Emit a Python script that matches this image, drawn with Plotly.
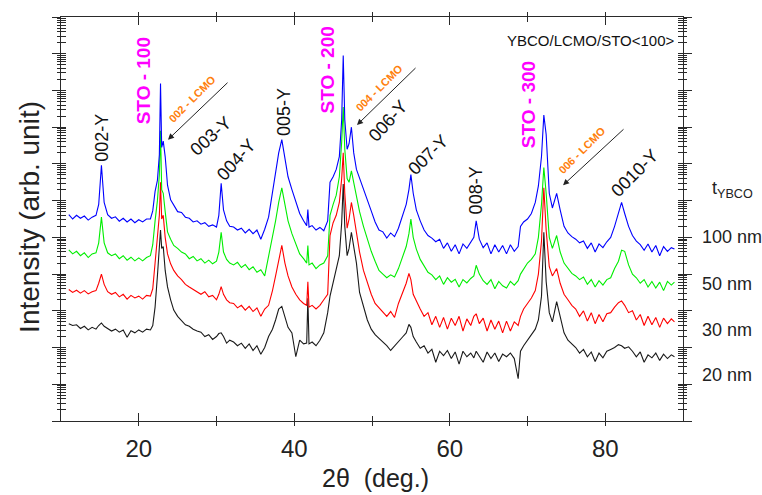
import plotly.graph_objects as go

# 2theta grid (deg.)
two_theta = [
    11.0, 11.5, 12.0, 12.5, 13.0, 13.5, 14.0, 14.5, 14.85, 15.2,
    15.55, 16.0, 16.5, 17.0, 17.5, 18.0, 18.5, 19.0, 19.5, 20.0,
    20.5, 21.0, 21.5, 21.8, 22.1, 22.4, 22.65, 22.8, 22.95, 23.15,
    23.4, 23.7, 24.1, 24.5, 25.0, 25.5, 26.0, 26.5, 27.0, 27.5,
    28.0, 28.5, 29.0, 29.5, 30.0, 30.3, 30.6, 30.9, 31.3, 31.7,
    32.2, 32.7, 33.2, 33.7, 34.2, 34.7, 35.2, 35.7, 36.2, 36.7,
    37.2, 37.6, 38.0, 38.4, 38.8, 39.2, 39.7, 40.2, 40.7, 41.2,
    41.6, 41.75, 41.9, 42.3, 42.8, 43.3, 43.8, 44.3, 44.6, 45.0,
    45.4, 45.8, 46.1, 46.3, 46.5, 46.8, 47.05, 47.35, 47.65, 48.0,
    48.4, 48.9, 49.4, 49.9, 50.4, 50.9, 51.4, 51.9, 52.4, 52.9,
    53.4, 53.9, 54.4, 54.75, 55.0, 55.3, 55.7, 56.2, 56.7, 57.2,
    57.7, 58.2, 58.7, 59.2, 59.7, 60.2, 60.7, 61.2, 61.7, 62.2,
    62.7, 63.1, 63.4, 63.8, 64.3, 64.8, 65.3, 65.8, 66.3, 66.8,
    67.3, 67.8, 68.3, 68.8, 69.1, 69.5, 70.0, 70.5, 71.0, 71.4,
    71.8, 72.1, 72.4, 72.8, 73.2, 73.75, 74.2, 74.7, 75.2, 75.7,
    76.2, 76.7, 77.2, 77.7, 78.2, 78.7, 79.2, 79.7, 80.2, 80.7,
    81.2, 81.7, 82.1, 82.5, 83.0, 83.5, 84.0, 84.5, 85.0, 85.5,
    86.0, 86.5, 87.0, 87.5, 88.0, 88.5, 88.9,
]

# log10 of intensity (arb. unit)
log_int_100nm = [
    5.62, 5.50, 5.60, 5.52, 5.58, 5.47, 5.55, 5.60, 5.90, 6.96,
    5.95, 5.62, 5.52, 5.56, 5.44, 5.52, 5.42, 5.50, 5.40, 5.48,
    5.42, 5.50, 5.50, 5.72, 6.25, 6.55, 7.25, 9.19, 7.45, 7.62,
    7.20, 6.42, 6.02, 5.88, 5.70, 5.68, 5.55, 5.52, 5.42, 5.45,
    5.36, 5.40, 5.30, 5.34, 5.28, 5.60, 6.47, 5.75, 5.45, 5.30,
    5.28, 5.20, 5.25, 5.12, 5.22, 5.10, 5.20, 4.95, 5.22, 5.55,
    6.25, 6.70, 7.30, 7.66, 7.20, 6.65, 6.30, 5.95, 5.65, 5.45,
    5.32, 5.76, 5.28, 5.32, 5.20, 5.27, 5.18, 5.45, 6.50, 6.65,
    6.85, 7.20, 8.20, 9.95, 8.20, 7.40, 7.55, 8.00, 7.30, 6.85,
    6.60, 6.30, 6.00, 5.72, 5.42, 5.20, 5.15, 4.98, 5.12, 5.02,
    5.25, 5.55, 5.90, 6.30, 6.71, 6.20, 5.75, 5.45, 5.20, 5.05,
    4.98, 4.88, 4.95, 4.70, 4.85, 4.62, 4.80, 4.55, 4.82, 4.70,
    4.85, 5.00, 5.45, 4.95, 4.72, 4.85, 4.55, 4.80, 4.60, 4.78,
    4.55, 4.80, 4.62, 4.75, 5.30, 5.42, 5.50, 5.65, 5.95, 6.40,
    7.20, 8.33, 7.80, 6.20, 5.80, 6.20, 5.75, 5.30, 5.12, 5.02,
    4.95, 4.85, 4.90, 4.70, 4.85, 4.60, 4.82, 4.72, 4.88, 5.00,
    5.30, 5.70, 5.95, 5.65, 5.30, 5.05, 4.90, 4.80, 4.65, 4.82,
    4.60, 4.78, 4.50, 4.75, 4.62, 4.72, 4.68,
]

log_int_50nm = [
    4.66, 4.55, 4.62, 4.50, 4.58, 4.45, 4.55, 4.58, 4.85, 5.55,
    4.85, 4.58, 4.50, 4.55, 4.42, 4.50, 4.38, 4.46, 4.36, 4.44,
    4.36, 4.45, 4.50, 4.80, 5.45, 6.00, 6.70, 7.90, 6.30, 6.20,
    5.70, 5.15, 4.95, 4.78, 4.70, 4.60, 4.55, 4.42, 4.48, 4.36,
    4.42, 4.30, 4.38, 4.28, 4.35, 4.60, 5.14, 4.60, 4.40, 4.30,
    4.25, 4.32, 4.18, 4.26, 4.12, 4.20, 4.05, 4.12, 3.95, 4.45,
    5.00, 5.45, 5.95, 6.35, 5.90, 5.45, 5.10, 4.80, 4.55, 4.42,
    4.30, 4.78, 4.25, 4.30, 4.15, 4.25, 4.30, 4.50, 5.60, 5.90,
    6.15, 6.65, 7.60, 8.55, 7.40, 6.60, 6.50, 6.81, 6.50, 6.10,
    5.70, 5.30, 4.95, 4.62, 4.35, 4.10, 4.00, 3.90, 3.98, 3.92,
    4.15, 4.45, 4.75, 5.10, 5.50, 5.00, 4.68, 4.40, 4.22, 4.05,
    3.98, 3.85, 3.95, 3.72, 3.90, 3.78, 3.86, 3.65, 3.85, 3.76,
    3.88, 3.95, 4.24, 4.00, 3.82, 3.72, 3.85, 3.60, 3.80, 3.68,
    3.62, 3.80, 3.70, 3.82, 4.00, 4.15, 4.30, 4.40, 4.55, 5.00,
    5.90, 6.90, 6.20, 5.00, 4.70, 5.05, 4.60, 4.30, 4.15, 4.02,
    3.95, 3.85, 3.92, 3.72, 3.85, 3.65, 3.82, 3.70, 3.85, 3.90,
    4.15, 4.35, 4.65, 4.62, 4.25, 4.00, 3.90, 3.75, 3.85, 3.65,
    3.80, 3.62, 3.78, 3.55, 3.80, 3.70, 3.78,
]

log_int_30nm = [
    3.58, 3.50, 3.56, 3.48, 3.55, 3.46, 3.52, 3.55, 3.75, 4.00,
    3.72, 3.52, 3.45, 3.50, 3.38, 3.45, 3.32, 3.42, 3.35, 3.40,
    3.32, 3.42, 3.40, 3.60, 4.30, 4.95, 5.60, 6.50, 5.50, 5.60,
    5.00, 4.55, 4.28, 4.10, 3.95, 3.85, 3.72, 3.65, 3.58, 3.50,
    3.45, 3.52, 3.38, 3.42, 3.30, 3.45, 3.66, 3.45, 3.30, 3.22,
    3.20, 3.08, 3.15, 3.02, 3.12, 2.98, 3.08, 2.85, 3.05, 3.15,
    3.55, 3.95, 4.40, 4.78, 4.30, 3.95, 3.65, 3.45, 3.30, 3.20,
    3.15, 3.79, 3.10, 3.15, 3.05, 3.15, 3.30, 3.45, 5.05, 5.40,
    5.60, 5.95, 6.60, 7.30, 6.20, 5.25, 5.50, 5.95, 5.60, 5.10,
    4.60, 4.10, 3.75, 3.45, 3.20, 3.08, 2.95, 2.85, 2.98, 2.82,
    3.20, 3.45, 3.75, 4.02, 3.85, 3.45, 3.25, 3.05, 2.85, 2.95,
    2.62, 2.85, 2.55, 2.82, 2.50, 2.80, 2.60, 2.85, 2.45, 2.78,
    2.60, 2.85, 2.92, 2.65, 2.80, 2.45, 2.75, 2.50, 2.72, 2.40,
    2.72, 2.45, 2.70, 2.60, 2.85, 3.05, 3.20, 3.35, 3.55, 4.00,
    4.90, 6.35, 5.20, 4.20, 3.95, 4.15, 3.75, 3.45, 3.30, 3.15,
    3.05, 2.85, 3.00, 2.72, 2.95, 2.65, 2.90, 2.70, 2.92, 2.95,
    3.10, 3.22, 3.27, 3.15, 2.95, 3.00, 2.75, 2.90, 2.60, 2.85,
    2.62, 2.82, 2.55, 2.80, 2.65, 2.78, 2.70,
]

log_int_20nm = [
    2.65, 2.60, 2.62, 2.52, 2.58, 2.48, 2.55, 2.50, 2.60, 2.67,
    2.58, 2.52, 2.45, 2.50, 2.42, 2.48, 2.28, 2.46, 2.40, 2.48,
    2.42, 2.50, 2.48, 2.60, 3.10, 3.95, 4.60, 5.20, 4.70, 4.75,
    4.10, 3.65, 3.30, 3.02, 2.85, 2.72, 2.62, 2.58, 2.50, 2.45,
    2.42, 2.30, 2.35, 2.22, 2.30, 2.38, 2.40, 2.30, 2.12, 2.20,
    2.15, 2.05, 2.12, 1.98, 2.10, 1.92, 2.05, 1.82, 2.00, 2.30,
    2.50, 2.75, 3.05, 3.12, 2.80, 2.55, 2.40, 1.75, 2.20, 2.10,
    2.12, 3.34, 2.10, 2.15, 2.05, 2.20, 2.40, 2.95, 3.40, 3.75,
    4.10, 4.50, 5.40, 6.45, 5.30, 4.50, 4.70, 5.14, 4.75, 4.30,
    3.50, 3.10, 2.75, 2.50, 2.35, 2.25, 2.15, 2.05, 1.92, 2.05,
    2.15, 2.28, 2.40, 2.63, 2.55, 2.30, 2.15, 1.98, 2.05, 1.85,
    1.95, 1.60, 1.90, 1.78, 1.92, 1.70, 1.88, 1.55, 1.90, 1.75,
    1.85, 1.72, 1.90, 1.78, 1.60, 1.88, 1.70, 1.85, 1.62, 1.82,
    1.75, 1.85, 1.70, 1.15, 1.90, 2.05, 2.20, 2.35, 2.50, 2.75,
    3.40, 5.14, 3.80, 2.95, 2.70, 3.25, 2.85, 2.40, 2.20, 2.10,
    2.00, 1.85, 1.95, 1.75, 1.88, 1.62, 1.85, 1.72, 1.90, 1.95,
    2.00, 2.08, 2.05, 1.98, 2.02, 1.90, 1.75, 1.88, 1.60, 1.80,
    1.72, 1.85, 1.65, 1.82, 1.70, 1.80, 1.75,
]

thickness_labels = ["100 nm", "50 nm", "30 nm", "20 nm"]
x_tick_values = [20, 40, 60, 80]
x_minor_values = [30, 50, 70]

FONT = "Liberation Sans, Arial, sans-serif"
AX = "#2a2a2a"

series = [
    (log_int_20nm, "#1a1a1a", thickness_labels[3]),
    (log_int_30nm, "#ff0000", thickness_labels[2]),
    (log_int_50nm, "#00ee00", thickness_labels[1]),
    (log_int_100nm, "#0000ff", thickness_labels[0]),
]

fig = go.Figure()
for logs, color, name in series:
    fig.add_trace(go.Scatter(
        x=two_theta, y=[10 ** v for v in logs], mode="lines", name=name,
        line=dict(color=color, width=1.1), showlegend=False, hoverinfo="skip",
    ))

# empty trace so the overlay axes are drawn
fig.add_trace(go.Scatter(x=[], y=[], xaxis="x2", yaxis="y2", showlegend=False))

common_x = dict(range=[10, 90], showgrid=False, zeroline=False, showline=True,
                linecolor=AX, linewidth=1.3, mirror="ticks", tickcolor=AX, tickwidth=1.2)
common_y = dict(type="log", range=[0, 11], showgrid=False, zeroline=False, showline=True,
                linecolor=AX, linewidth=1.3, mirror="ticks", tickcolor=AX, tickwidth=1.2,
                showticklabels=False, dtick=1)

fig.update_layout(
    width=762, height=495,
    margin=dict(l=61, r=79, t=13, b=74),
    paper_bgcolor="white", plot_bgcolor="white",
    font=dict(family=FONT, color="#222"),
    xaxis=dict(**common_x, tickmode="array", tickvals=x_tick_values,
               ticks="inside", ticklen=8,
               minor=dict(tickmode="array", tickvals=x_minor_values, ticks="inside",
                          ticklen=5, tickcolor=AX, tickwidth=1.2),
               tickfont=dict(size=24, color="#222", family=FONT),
               ticklabelstandoff=6),
    xaxis2=dict(**common_x, overlaying="x", anchor="y", side="bottom",
                tickmode="array", tickvals=x_tick_values + x_minor_values,
                ticks="outside", ticklen=4, showticklabels=False),
    yaxis=dict(**common_y, ticks="inside", ticklen=5,
               minor=dict(dtick="D1", ticks="inside", ticklen=5, tickcolor=AX, tickwidth=1)),
    yaxis2=dict(**common_y, overlaying="y", anchor="x", side="left",
                ticks="outside", ticklen=8,
                minor=dict(dtick="D1", ticks="outside", ticklen=3, tickcolor=AX, tickwidth=1)),
)

ann = []

def txt(x, y, text, angle=0, size=18, color="#111", bold=False, xref="x", yref="y",
        xanchor="center", yanchor="middle"):
    t = f"<b>{text}</b>" if bold else text
    ann.append(dict(x=x, y=y, xref=xref, yref=yref, text=t, textangle=angle,
                    showarrow=False, xanchor=xanchor, yanchor=yanchor,
                    font=dict(size=size, color=color, family=FONT)))

MAG = "#ff00ff"
ORA = "#ff7f0e"

# peak labels (x in deg, y in log10 units)
txt(15.27, 7.71, "002-Y", -90)
txt(20.55, 9.25, "STO - 100", -90, 19, MAG, True)
txt(26.85, 8.76, "002 - LCMO", -45, 11, ORA, True)
txt(29.3, 7.75, "003-Y", -42)
txt(32.5, 7.12, "004-Y", -48)
txt(38.68, 8.41, "005-Y", -90)
txt(44.34, 9.57, "STO - 200", -90, 19, MAG, True)
txt(50.9, 9.06, "004 - LCMO", -45, 11, ORA, True)
txt(52.06, 8.17, "006-Y", -48)
txt(57.2, 7.25, "007-Y", -45)
txt(63.38, 6.28, "008-Y", -90)
txt(70.07, 8.6, "STO - 300", -90, 19, MAG, True)
txt(77.0, 7.39, "006 - LCMO", -45, 11, ORA, True)
txt(83.83, 6.74, "0010-Y", -45)

# arrows
for (hx, hy, tx, ty) in [(23.76, 7.66, 31.61, 9.25), (48.07, 8.06, 55.79, 9.65),
                         (74.57, 6.42, 82.54, 7.98)]:
    ann.append(dict(x=hx, y=hy, ax=tx, ay=ty, xref="x", yref="y", axref="x", ayref="y",
                    text="", showarrow=True, arrowhead=2, arrowsize=1.2, arrowwidth=1,
                    arrowcolor="#222"))

txt(0.99, 0.941, "YBCO/LCMO/STO&lt;100&gt;", 0, 15, "#111", xref="paper", yref="paper",
    xanchor="right")

# right side legend labels
txt(1.043, 0.574, "t<sub>YBCO</sub>", 0, 18, "#222", xref="paper", yref="paper", xanchor="left")
for lab, yp in zip(thickness_labels, [0.456, 0.338, 0.225, 0.113]):
    txt(1.027, yp, lab, 0, 18, "#222", xref="paper", yref="paper", xanchor="left")

# axis titles
txt(-0.05, 0.505, "Intensity (arb. unit)", -90, 28, "#222", xref="paper", yref="paper")
txt(0.505, -0.14, "2θ  (deg.)", 0, 25, "#222", xref="paper", yref="paper")

fig.update_layout(annotations=ann)
fig.write_html("out.html", config={"displayModeBar": False},
               post_script="document.body.style.margin='0px';")
